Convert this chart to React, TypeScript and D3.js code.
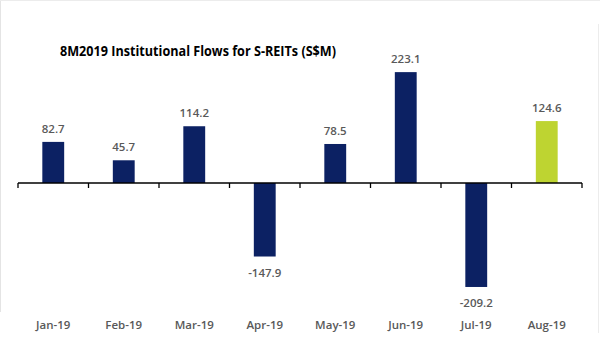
import React from "react";
import * as d3 from "d3";

const categories = ["Jan-19", "Feb-19", "Mar-19", "Apr-19", "May-19", "Jun-19", "Jul-19", "Aug-19"];
const values = [82.7, 45.7, 114.2, -147.9, 78.5, 223.1, -209.2, 124.6];
const highlight = ["Aug-19"];
const title = "8M2019  Institutional Flows for S-REITs (S$M)";

const W = 600;
const H = 360;

export default function App() {
  const x = d3.scaleBand<string>().domain(categories).range([18, 582]).paddingInner(0.69).paddingOuter(0.345);
  const y = d3.scaleLinear().domain([-250, 250]).range([307.25, 58.75]);
  const y0 = y(0);
  const font = "'Open Sans', 'Liberation Sans', sans-serif";
  const ticks = d3.range(categories.length + 1).map((i) => 18 + (i * (582 - 18)) / categories.length);

  return (
    <svg width={W} height={H} style={{ position: "absolute", left: 0, top: 0, background: "#fff" }}>
      <rect x={0} y={0} width={W} height={H} fill="#fff" />
      <line x1={0.5} y1={0} x2={0.5} y2={312} stroke="#e4e4e4" />
      <line x1={0} y1={0.5} x2={600} y2={0.5} stroke="#ececec" />
      <line x1={598.5} y1={24} x2={598.5} y2={333} stroke="#ececec" />
      <text x={60} y={55.5} fontFamily={font} fontWeight="bold" fontSize={13.5} fill="#000" textLength={276} lengthAdjust="spacingAndGlyphs">
        {title}
      </text>
      {categories.map((c, i) => {
        const v = values[i];
        const bx = x(c)!;
        const top = v >= 0 ? y(v) : y0;
        const h = Math.abs(y(v) - y0);
        const cx = bx + x.bandwidth() / 2;
        return (
          <g key={c}>
            <rect x={bx} y={top} width={x.bandwidth()} height={h} fill={highlight.includes(c) ? "#BED431" : "#0C2163"} />
            <text
              x={cx}
              y={v >= 0 ? y(v) - 9 : y(v) + 20}
              textAnchor="middle"
              fontFamily={font}
              fontSize={11.5}
              fontWeight={600}
              fill="#595959"
            >
              {v.toFixed(1)}
            </text>
            <text x={cx} y={329} textAnchor="middle" fontFamily={font} fontSize={11.5} fontWeight={600} fill="#595959">
              {c}
            </text>
          </g>
        );
      })}
      <line x1={18} y1={y0} x2={582} y2={y0} stroke="#000" strokeWidth={1.3} />
      {ticks.map((t, i) => (
        <line key={i} x1={t} y1={y0} x2={t} y2={y0 + 5} stroke="#000" strokeWidth={1.3} />
      ))}
    </svg>
  );
}
